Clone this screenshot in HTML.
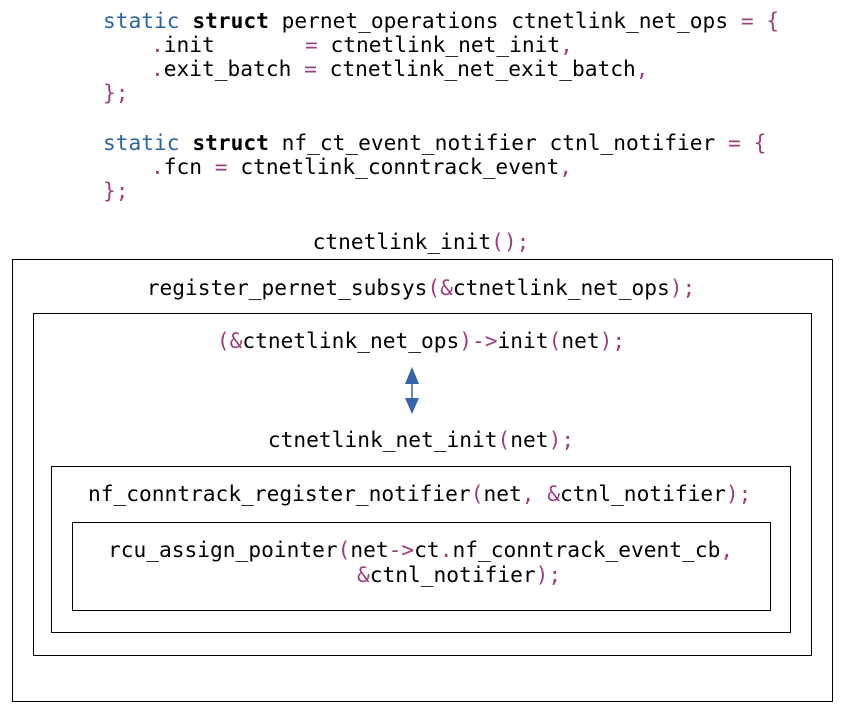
<!DOCTYPE html>
<html><head><meta charset="utf-8"><style>
html,body{margin:0;padding:0;background:#fff;}
svg{display:block;}
text{font-family:"DejaVu Sans Mono","Liberation Mono",monospace;font-size:21.2px;fill:#000;white-space:pre;}
.k{fill:#2e64a0;}
.p{fill:#9b3f7f;}
.b{font-weight:bold;}
</style></head><body>
<svg width="844" height="714" viewBox="0 0 844 714" xmlns="http://www.w3.org/2000/svg">
<text x="103" y="28"><tspan class="k">static</tspan> <tspan class="b">struct</tspan> pernet_operations ctnetlink_net_ops <tspan class="p">=</tspan> <tspan class="p">{</tspan></text>
<text x="151" y="52"><tspan class="p">.</tspan>init</text>
<text x="305" y="52"><tspan class="p">=</tspan> ctnetlink_net_init<tspan class="p">,</tspan></text>
<text x="151" y="76"><tspan class="p">.</tspan>exit_batch <tspan class="p">=</tspan> ctnetlink_net_exit_batch<tspan class="p">,</tspan></text>
<text x="103" y="100"><tspan class="p">};</tspan></text>
<text x="103" y="150"><tspan class="k">static</tspan> <tspan class="b">struct</tspan> nf_ct_event_notifier ctnl_notifier <tspan class="p">=</tspan> <tspan class="p">{</tspan></text>
<text x="151" y="174"><tspan class="p">.</tspan>fcn <tspan class="p">=</tspan> ctnetlink_conntrack_event<tspan class="p">,</tspan></text>
<text x="103" y="198"><tspan class="p">};</tspan></text>
<text x="421" y="249" text-anchor="middle">ctnetlink_init<tspan class="p">();</tspan></text>
<rect x="12.5" y="259.5" width="820" height="442" fill="none" stroke="#000" stroke-width="1"/>
<rect x="33.5" y="313.5" width="778" height="342" fill="none" stroke="#000" stroke-width="1"/>
<rect x="51.5" y="466.5" width="739" height="166" fill="none" stroke="#000" stroke-width="1"/>
<rect x="72.5" y="522.5" width="698" height="88" fill="none" stroke="#000" stroke-width="1"/>
<text x="421" y="295" text-anchor="middle">register_pernet_subsys<tspan class="p">(&amp;</tspan>ctnetlink_net_ops<tspan class="p">);</tspan></text>
<text x="421" y="348" text-anchor="middle"><tspan class="p">(&amp;</tspan>ctnetlink_net_ops<tspan class="p">)-&gt;</tspan>init<tspan class="p">(</tspan>net<tspan class="p">);</tspan></text>
<text x="421" y="447" text-anchor="middle">ctnetlink_net_init<tspan class="p">(</tspan>net<tspan class="p">);</tspan></text>
<text x="88" y="501">nf_conntrack_register_notifier<tspan class="p">(</tspan>net<tspan class="p">,</tspan> <tspan class="p">&amp;</tspan>ctnl_notifier<tspan class="p">);</tspan></text>
<text x="108" y="557">rcu_assign_pointer<tspan class="p">(</tspan>net<tspan class="p">-&gt;</tspan>ct<tspan class="p">.</tspan>nf_conntrack_event_cb<tspan class="p">,</tspan></text>
<text x="357" y="582"><tspan class="p">&amp;</tspan>ctnl_notifier<tspan class="p">);</tspan></text>
<line x1="412" y1="384" x2="412" y2="399" stroke="#3465a4" stroke-width="1.5"/>
<polygon points="412,367 405,384 419,384" fill="#3465a4"/>
<polygon points="412,414 405,398 419,398" fill="#3465a4"/>
</svg>
</body></html>
